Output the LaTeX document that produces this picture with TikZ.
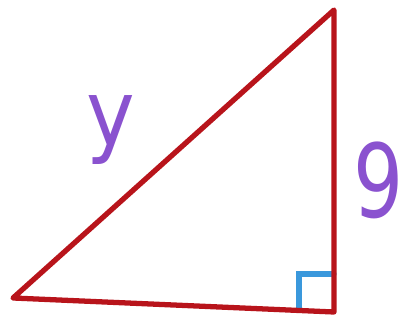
\documentclass[tikz,border=0pt]{standalone}
\usepackage{fontspec}
\setmainfont{DejaVu Sans}
\newfontfamily\penfont{DejaVu Sans Condensed}
\usetikzlibrary{positioning}
\definecolor{brickred}{HTML}{B8141B}
\definecolor{markblue}{HTML}{3A98DC}
\definecolor{penpurple}{HTML}{8A52CF}

\begin{document}
\begin{tikzpicture}[x=0.02cm,y=-0.02cm]
\useasboundingbox (0,0) rectangle (407,321);
\coordinate (left) at (13,298);
\coordinate (top) at (334,10);
\coordinate (corner) at (334,312);
\draw[draw=markblue, line width=3pt, line cap=round] (299,310) -- (299,274) -- (334,274);
\draw[draw=brickred, line width=3pt, line join=round] (left) -- (top) -- (corner) -- cycle;
\node[text=penpurple, inner sep=0pt, font=\fontsize{52}{52}\selectfont\penfont] (ylabel) at (111,130) {y};
\node[text=penpurple, inner sep=0pt, xscale=0.86, font=\fontsize{58}{58}\selectfont\penfont] (ninelabel) at (379,180) {9};
\end{tikzpicture}
\end{document}
